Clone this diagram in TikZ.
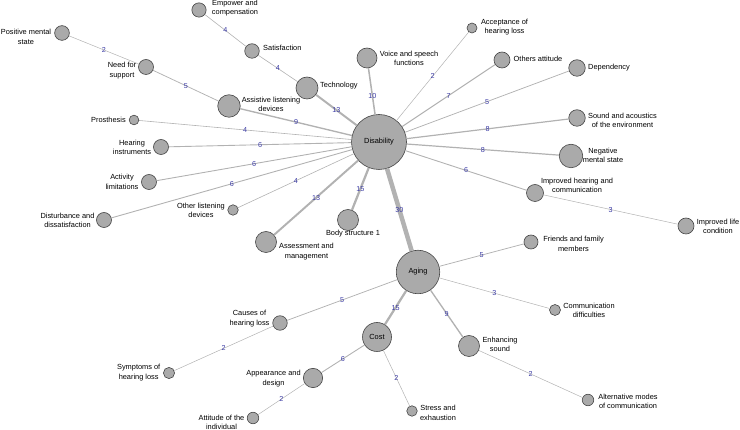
\documentclass[tikz,border=0pt]{standalone}
\usepackage{fontspec}
\setmainfont{Liberation Sans}
\definecolor{nodefill}{RGB}{170,170,170}
\definecolor{nodedraw}{RGB}{70,70,70}
\definecolor{edgecol}{RGB}{178,178,178}
\definecolor{labcol}{RGB}{60,60,165}
\begin{document}
\begin{tikzpicture}[x=1pt,y=-1pt,
  nd/.style={circle,fill=nodefill,draw=nodedraw,line width=0.6pt,inner sep=0pt,minimum size=#1},
  txt/.style={inner sep=0pt,align=center,font=\fontsize{7.4}{9.4}\selectfont},
  edge/.style={draw=edgecol,line width={max(0.5,0.15*#1)*1pt}},
  elab/.style={inner sep=0pt,text=labcol,font=\fontsize{7.2}{8}\selectfont}]
\useasboundingbox (0,0) rectangle (740,430);
% nodes
\node[nd=55pt,txt] (dis) at (379,142) {Disability};
\node[nd=43.5pt,txt] (aging) at (418,272) {Aging};
\node[nd=29pt,txt] (cost) at (377,337) {Cost};
\node[nd=22pt] (tech) at (307,88) {};
\node[nd=20pt] (voice) at (367,58) {};
\node[nd=10pt] (acc) at (472,28) {};
\node[nd=16pt] (oth) at (502,60) {};
\node[nd=16.5pt] (dep) at (577,68) {};
\node[nd=16.5pt] (sound) at (577,118) {};
\node[nd=23.5pt] (neg) at (571,156) {};
\node[nd=17pt] (imph) at (535,193) {};
\node[nd=16pt] (impl) at (686,226) {};
\node[nd=22.5pt] (assist) at (229,106) {};
\node[nd=9.7pt] (pros) at (134,120) {};
\node[nd=15pt] (hear) at (161,147) {};
\node[nd=15pt] (act) at (149,182) {};
\node[nd=10.5pt] (othl) at (233,210) {};
\node[nd=15pt] (dist) at (104,220) {};
\node[nd=21pt] (assess) at (266,242) {};
\node[nd=21pt] (body) at (348,220) {};
\node[nd=14pt] (friends) at (531,242) {};
\node[nd=11pt] (comm) at (555,310) {};
\node[nd=21pt] (enh) at (469,346) {};
\node[nd=11.5pt] (alt) at (588,400) {};
\node[nd=10.5pt] (stress) at (412,411) {};
\node[nd=14.5pt] (causes) at (280,323) {};
\node[nd=11.2pt] (symp) at (169,373) {};
\node[nd=19.3pt] (appear) at (313,378) {};
\node[nd=11.5pt] (attit) at (253,418) {};
\node[nd=14.7pt] (posm) at (62,33) {};
\node[nd=14.3pt] (emp) at (199,10) {};
\node[nd=14.5pt] (sat) at (252,51) {};
\node[nd=15pt] (need) at (146,67) {};
% labels
\node[txt] (tposm) at (26,37) {Positive mental\\state};
\node[txt] (temp) at (235,8) {Empower and\\compensation};
\node[txt,anchor=west] (tsat) at (263,48) {Satisfaction};
\node[txt] (tneed) at (122,70.5) {Need for\\support};
\node[txt,anchor=west] (ttech) at (320,86) {Technology};
\node[txt] (tassist) at (271,104.5) {Assistive listening\\devices};
\node[txt] (tpros) at (108.5,120) {Prosthesis};
\node[txt] (thear) at (132,147.5) {Hearing\\instruments};
\node[txt] (tact) at (122,182) {Activity\\limitations};
\node[txt] (tothl) at (201,210.5) {Other listening\\devices};
\node[txt] (tdist) at (67.5,220.5) {Disturbance and\\dissatisfaction};
\node[txt] (tvoice) at (409,58.5) {Voice and speech\\functions};
\node[txt] (tacc) at (504.5,27) {Acceptance of\\hearing loss};
\node[txt] (toth) at (538,59) {Others attitude};
\node[txt] (tdep) at (609,68) {Dependency};
\node[txt] (tsound) at (622.5,120.5) {Sound and acoustics\\of the environment};
\node[txt] (tneg) at (603,155.5) {Negative\\mental state};
\node[txt] (timph) at (577,185.5) {Improved hearing and\\communication};
\node[txt] (timpl) at (718,226.5) {Improved life\\condition};
\node[txt] (tbody) at (353,234) {Body structure 1};
\node[txt] (tassess) at (306.5,251.5) {Assessment and\\management};
\node[txt] (tfriends) at (573.5,244) {Friends and family\\members};
\node[txt] (tcomm) at (589,310.5) {Communication\\difficulties};
\node[txt] (tenh) at (500,344.5) {Enhancing\\sound};
\node[txt] (talt) at (628,401.5) {Alternative modes\\of communication};
\node[txt] (tstress) at (438,413) {Stress and\\exhaustion};
\node[txt] (tcauses) at (249.5,318.5) {Causes of\\hearing loss};
\node[txt] (tsymp) at (138.7,372.5) {Symptoms of\\hearing loss};
\node[txt] (tappear) at (273.5,378.5) {Appearance and\\design};
\node[txt] (tattit) at (221.5,422.5) {Attitude of the\\individual};
% edges
\draw[edge=13] (tech) -- node[elab] (e1) {13} (dis);
\draw[edge=10] (voice) -- node[elab,pos=0.6] (e2) {10} (dis);
\draw[edge=2] (acc) -- node[elab] (e3) {2} (dis);
\draw[edge=7] (oth) -- node[elab] (e4) {7} (dis);
\draw[edge=5] (dep) -- node[elab] (e5) {5} (dis);
\draw[edge=8] (sound) -- node[elab] (e6) {8} (dis);
\draw[edge=8] (neg) -- node[elab] (e7) {8} (dis);
\draw[edge=6] (imph) -- node[elab] (e8) {6} (dis);
\draw[edge=9] (assist) -- node[elab] (e9) {9} (dis);
\draw[edge=4] (pros) -- node[elab] (e10) {4} (dis);
\draw[edge=6] (hear) -- node[elab] (e11) {6} (dis);
\draw[edge=6] (act) -- node[elab] (e12) {6} (dis);
\draw[edge=6] (dist) -- node[elab] (e13) {6} (dis);
\draw[edge=4] (othl) -- node[elab] (e14) {4} (dis);
\draw[edge=13] (assess) -- node[elab] (e15) {13} (dis);
\draw[edge=15] (body) -- node[elab] (e16) {15} (dis);
\draw[edge=30] (aging) -- node[elab] (e17) {30} (dis);
\draw[edge=4] (emp) -- node[elab] (e18) {4} (sat);
\draw[edge=4] (sat) -- node[elab] (e19) {4} (tech);
\draw[edge=2] (posm) -- node[elab] (e20) {2} (need);
\draw[edge=5] (need) -- node[elab] (e21) {5} (assist);
\draw[edge=3] (imph) -- node[elab] (e22) {3} (impl);
\draw[edge=5] (aging) -- node[elab] (e23) {5} (friends);
\draw[edge=3] (aging) -- node[elab] (e24) {3} (comm);
\draw[edge=9] (aging) -- node[elab] (e25) {9} (enh);
\draw[edge=15] (aging) -- node[elab] (e26) {15} (cost);
\draw[edge=5] (aging) -- node[elab] (e27) {5} (causes);
\draw[edge=2] (causes) -- node[elab] (e28) {2} (symp);
\draw[edge=6] (cost) -- node[elab] (e29) {6} (appear);
\draw[edge=2] (appear) -- node[elab] (e30) {2} (attit);
\draw[edge=2] (cost) -- node[elab] (e31) {2} (stress);
\draw[edge=2] (enh) -- node[elab] (e32) {2} (alt);
\end{tikzpicture}
\end{document}
